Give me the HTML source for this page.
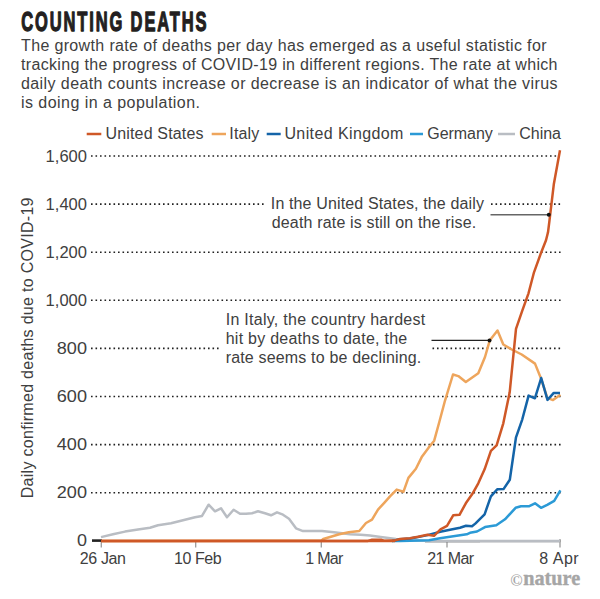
<!DOCTYPE html>
<html><head><meta charset="utf-8">
<style>
html,body{margin:0;padding:0;background:#fff;width:600px;height:599px;overflow:hidden;}
svg{position:absolute;left:0;top:0;}
text{font-family:"Liberation Sans",sans-serif;fill:#404040;}
</style></head>
<body>
<svg width="600" height="599" viewBox="0 0 600 599">
<!-- title -->
<text transform="translate(21.2,31.3) scale(0.6,1)" x="0" y="0" font-size="27.5" font-weight="bold" style="fill:#231f20;stroke:#231f20;stroke-width:1.3;stroke-linejoin:round" textLength="309" lengthAdjust="spacing">COUNTING DEATHS</text>
<!-- body -->
<g font-size="16">
<text x="21" y="51" textLength="525.5" lengthAdjust="spacing">The growth rate of deaths per day has emerged as a useful statistic for</text>
<text x="21" y="70" textLength="536.5" lengthAdjust="spacing">tracking the progress of COVID-19 in different regions. The rate at which</text>
<text x="21" y="89" textLength="536.5" lengthAdjust="spacing">daily death counts increase or decrease is an indicator of what the virus</text>
<text x="21" y="108" textLength="179" lengthAdjust="spacing">is doing in a population.</text>
</g>
<!-- legend -->
<g stroke-width="2.5">
<line x1="86.7" y1="134" x2="101.3" y2="134" stroke="#cf5827"/>
<line x1="211.7" y1="134" x2="226" y2="134" stroke="#eea55c"/>
<line x1="266.7" y1="134" x2="280.7" y2="134" stroke="#1464a8"/>
<line x1="410" y1="134" x2="423" y2="134" stroke="#2b9ad6"/>
<line x1="498" y1="134" x2="515" y2="134" stroke="#b9bdc3"/>
</g>
<g font-size="16">
<text x="105.5" y="138.8" textLength="98" lengthAdjust="spacing">United States</text>
<text x="229.3" y="138.8" textLength="30" lengthAdjust="spacing">Italy</text>
<text x="284.4" y="138.8" textLength="119" lengthAdjust="spacing">United Kingdom</text>
<text x="427.3" y="138.8" textLength="65.5" lengthAdjust="spacing">Germany</text>
<text x="519.3" y="138.8" textLength="41.7" lengthAdjust="spacing">China</text>
</g>
<!-- gridlines -->
<g stroke="#222" stroke-width="1.6" stroke-dasharray="1.6 2.9">
<line x1="91" y1="156" x2="557" y2="156"/>
<line x1="91" y1="204.1" x2="265" y2="204.1"/><line x1="491" y1="204.1" x2="561" y2="204.1"/>
<line x1="91" y1="252.2" x2="561" y2="252.2"/>
<line x1="91" y1="300.3" x2="561" y2="300.3"/>
<line x1="91" y1="348.4" x2="219" y2="348.4"/><line x1="432.5" y1="348.4" x2="561" y2="348.4"/>
<line x1="91" y1="396.5" x2="561" y2="396.5"/>
<line x1="91" y1="444.6" x2="561" y2="444.6"/>
<line x1="91" y1="492.7" x2="561" y2="492.7"/>
</g>
<!-- y labels -->
<g font-size="16.6" text-anchor="end">
<text x="87" y="161.6" textLength="41.4" lengthAdjust="spacingAndGlyphs">1,600</text>
<text x="87" y="209.7" textLength="41.4" lengthAdjust="spacingAndGlyphs">1,400</text>
<text x="87" y="257.8" textLength="41.4" lengthAdjust="spacingAndGlyphs">1,200</text>
<text x="87" y="305.9" textLength="41.4" lengthAdjust="spacingAndGlyphs">1,000</text>
<text x="87" y="354.0" textLength="30.2" lengthAdjust="spacingAndGlyphs">800</text>
<text x="87" y="402.1" textLength="30.2" lengthAdjust="spacingAndGlyphs">600</text>
<text x="87" y="450.2" textLength="30.2" lengthAdjust="spacingAndGlyphs">400</text>
<text x="87" y="498.3" textLength="30.2" lengthAdjust="spacingAndGlyphs">200</text>
<text x="87" y="545.6" textLength="10.0" lengthAdjust="spacingAndGlyphs">0</text>
</g>
<!-- y title -->
<text font-size="16" transform="translate(33.3,498.3) rotate(-90)" x="0" y="0" textLength="300.8" lengthAdjust="spacing">Daily confirmed deaths due to COVID-19</text>
<!-- ticks -->
<g stroke="#9a9a9a" stroke-width="1.3">
<line x1="101.3" y1="541" x2="101.3" y2="547.5"/>
<line x1="195.7" y1="541" x2="195.7" y2="547.5"/>
<line x1="321.3" y1="541" x2="321.3" y2="547.5"/>
<line x1="447" y1="541" x2="447" y2="547.5"/>
<line x1="560" y1="539" x2="560" y2="547.5"/>
</g>
<!-- x labels -->
<g font-size="16">
<text x="79.7" y="564" textLength="46.3" lengthAdjust="spacing">26 Jan</text>
<text x="174" y="564" textLength="47.6" lengthAdjust="spacing">10 Feb</text>
<text x="305.3" y="564" textLength="38" lengthAdjust="spacing">1 Mar</text>
<text x="427.3" y="564" textLength="46.7" lengthAdjust="spacing">21 Mar</text>
<text x="539.3" y="564" textLength="39.4" lengthAdjust="spacing">8 Apr</text>
</g>
<!-- baseline -->
<line x1="92" y1="540.6" x2="102" y2="540.6" stroke="#222" stroke-width="2.6"/><line x1="425" y1="541.2" x2="480" y2="541.2" stroke="#333" stroke-width="2.2"/><line x1="480" y1="541.2" x2="560.5" y2="541.2" stroke="#8c8c8c" stroke-width="2.2"/>
<g fill="none" stroke-width="2.5" stroke-linejoin="round" stroke-linecap="butt" transform="translate(0,0.3)">
<!-- China -->
<polyline stroke="#b9bdc3" points="101,536.8 113,534 125,531.3 138,529.3 150,527.5 158,525 171,523 183,520 195,517 202,515.6 208.6,504.4 215,511 221,508 227,517 233.6,509.4 240,513.4 246,513.4 252,513 258,511 265,513 271,515 277,512 283,514.4 289,518.4 296,528 303,530.8 322,530.7 334,532 350,534 360.7,534.4 370,535.3 380.7,536.7 396,538.6 410,540 430,540.6 560,540.6"/>
<!-- Germany -->
<polyline stroke="#2b9ad6" points="392,540.6 400,540.8 410,540.5 429,540 440,538 450,536.5 460,535 466.7,534 470,532.5 477,531.2 485,526.8 496.3,525 505,519 515.6,507.5 521,506 528.8,506 535,503 541,507.5 547.2,504.5 554.2,500.5 560.4,490"/>
<!-- Italy -->
<polyline stroke="#eea55c" points="101.3,540.6 321.3,540.5 323.3,538.7 330,536.7 339.3,534 348.7,532 359.3,530.7 366,522.7 372,519.3 378,509.3 384.7,502 390,496 396.7,489.3 403.4,491.5 408.4,477.6 415.9,468.4 421.7,456.8 428.4,447.6 434.2,440.4 439.3,421.7 445.1,400 453,374.2 458.3,375.8 465.8,381.7 478.3,373 485,356.7 489.7,340.3 497.5,330.3 503.3,344.2 511.7,349.2 521.7,354.2 535,363.3 541,378.2 547.3,397.5 553,399.8 560.4,394.4"/>
<!-- UK -->
<polyline stroke="#1464a8" points="392,540.6 394,540.3 400,539 410,538.3 418,536.8 427.5,534.8 433,533.3 440.3,531.5 450,529.5 460,527.5 466,525.5 472,526 475.3,523.3 484.6,514 490.9,496 497.2,489 503.5,488.8 509.8,479.5 516,437 522.3,419 528.6,395.3 534.9,398 541.2,377.7 547.5,399.6 553.8,392.6 560,392.6"/>
<!-- US -->
<line x1="101.3" y1="540.6" x2="395" y2="540.6" stroke="#cf5827"/>
<polyline stroke="#cf5827" points="101.3,540.6 368,540.6 372,539.5 381,539.5 384,540.5 394,540.3 400,538.7 410,538 418,536.5 427.5,534.5 434,535.5 440.5,529 447,525.5 453.2,515 459.5,514.5 465.8,503 472.1,494 478.3,483 484.6,469 490.9,450.5 496.6,445 503.3,423 509.7,392 516,328.5 522.2,310.5 528.5,293 534,272 540.5,254 546,240 548,232 549.5,220 553.8,184 560,150"/>
</g>
<!-- annotations -->
<g font-size="16">
<text x="270.8" y="208.6" textLength="213.1" lengthAdjust="spacing">In the United States, the daily</text>
<text x="271.7" y="227.6" textLength="204.5" lengthAdjust="spacing">death rate is still on the rise.</text>
<text x="225.7" y="325" textLength="199.5" lengthAdjust="spacing">In Italy, the country hardest</text>
<text x="225.7" y="344" textLength="181.5" lengthAdjust="spacing">hit by deaths to date, the</text>
<text x="225.7" y="363" textLength="195.6" lengthAdjust="spacing">rate seems to be declining.</text>
</g>
<line x1="490.5" y1="214.8" x2="549" y2="214.8" stroke="#666" stroke-width="1.6"/>
<circle cx="548.8" cy="214.8" r="2" fill="#111"/>
<line x1="431.5" y1="340.4" x2="489.5" y2="340.4" stroke="#222" stroke-width="1.2"/>
<circle cx="489.5" cy="340.4" r="2" fill="#111"/>
<!-- nature logo -->
<text x="510.3" y="585.6" style="font-family:'Liberation Serif',serif;fill:#a6a6a6" font-size="16.5" font-weight="bold">©</text>
<text x="523.2" y="585.3" style="font-family:'Liberation Serif',serif;fill:#a6a6a6;stroke:#a6a6a6;stroke-width:0.4" font-size="21.5" font-weight="bold" textLength="57" lengthAdjust="spacingAndGlyphs">nature</text>
</svg>
</body></html>
